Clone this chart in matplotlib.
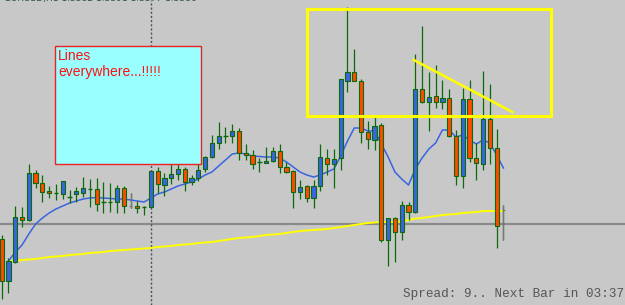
import matplotlib
matplotlib.use('Agg')
import matplotlib.pyplot as plt
from matplotlib.patches import Rectangle
import numpy as np

# candle data (screen y, smaller = higher price)
opens = [239, 281, 262, 217, 220, 173, 183, 191, 193, 194, 197, 194, 193, 189, 189,
         202, 202, 202, 188, 206, 206, 207, 207, 171, 185, 178, 174, 169, 182, 178,
         169, 157, 143, 136, 136, 131, 153, 155, 162, 163, 161, 151, 167, 171, 192,
         186, 198, 186, 158, 164, 158, 81, 72, 81, 132, 140, 125, 240, 218, 232,
         205, 212, 89, 102, 96, 102, 98, 136, 176, 99, 158, 164, 119, 148, 210]
highs = [235, 258, 206, 207, 164, 170, 175, 186, 184, 181, 190, 187, 177, 179, 178,
         182, 183, 185, 186, 193, 201, 206, 171, 167, 173, 163, 163, 167, 175, 163,
         156, 135, 122, 127, 124, 128, 144, 150, 158, 147, 147, 144, 162, 170, 180,
         185, 180, 144, 149, 149, 79, 7, 49, 79, 121, 117, 123, 218, 217, 201,
         202, 54, 26, 72, 65, 80, 89, 130, 88, 80, 143, 71, 84, 129, 205]
lows = [299, 293, 263, 227, 221, 188, 202, 198, 200, 199, 203, 202, 197, 207, 211,
        213, 212, 213, 213, 208, 213, 215, 208, 193, 196, 184, 180, 191, 185, 181,
        172, 158, 149, 143, 143, 160, 160, 169, 172, 163, 162, 173, 173, 208, 199,
        202, 208, 191, 175, 188, 170, 92, 81, 143, 149, 150, 242, 266, 262, 240,
        220, 213, 103, 131, 108, 109, 137, 185, 188, 162, 180, 170, 164, 248, 240]
closes = [281, 261, 217, 220, 173, 183, 192, 193, 193, 181, 197, 191, 188, 189, 204,
          202, 202, 188, 206, 206, 208, 207, 171, 184, 178, 174, 169, 182, 178, 170,
          157, 143, 136, 136, 131, 153, 155, 164, 162, 161, 151, 167, 172, 192, 187,
          198, 186, 157, 164, 159, 79, 72, 81, 132, 139, 126, 240, 218, 232, 205,
          212, 89, 102, 97, 102, 98, 136, 176, 99, 158, 163, 119, 148, 226, 210]
doji_grey = [19, 74]

# moving averages, one value per candle from candle 1
ma_fast = [261, 252, 245, 234, 224, 218, 213, 209, 206, 203, 201, 199, 198, 197.5,
           198, 198.5, 199, 199, 200, 201, 202, 198, 194, 192, 189, 186, 184, 182,
           179, 175, 172, 166, 160, 154, 153, 154, 156, 156.5, 157, 157, 158, 162,
           167, 172, 175, 177, 175, 172, 169, 156, 141, 128, 128, 131, 131, 144,
           157, 172, 179, 185, 169, 158, 149, 143, 130, 130, 137, 135, 140, 144,
           140, 143, 155, 168]
ma_slow = [261.5, 261, 260, 259.5, 259, 258, 257, 256.5, 256, 255, 254.5, 254, 253,
           252.5, 252, 251, 250.5, 250, 249.5, 249, 248.5, 248, 247, 246.5, 246, 245,
           244.5, 244, 243, 242.5, 242, 241, 240, 239, 238, 237.5, 237, 236, 235,
           234.5, 234, 233, 232, 231, 230.5, 230, 229.5, 229, 228, 227, 226, 225,
           224, 223, 222.5, 222, 222, 222, 221.5, 220, 218.5, 218, 217, 216, 215,
           214.5, 214, 213, 212.5, 212, 211, 211, 211, 211]

h_level = 224          # grey horizontal line
v_bar = 22             # dotted vertical separator
box_bars = (7.85, 29.4)      # cyan note box, bar range
box_levels = (45.5, 163.5)
zone_bars = (45.1, 81.0)     # yellow rectangle
zone_levels = (9.3, 115.7)
trend_bars = (60.6, 75.5)
trend_levels = (59.3, 112.7)

note_text = 'Lines\neverywhere...!!!!!'
status_text = 'Spread: 9.. Next Bar in 03:37'
header_text = 'EURUSD,H1 1.3382 1.3391 1.3377 1.3386'

BG = '#c8c8c8'
GREEN = '#0b6b0b'
BLUE = '#3a64e0'
RED = '#ff4a00'

W, H = 625, 305
fig = plt.figure(figsize=(W / 100, H / 100), dpi=100, facecolor=BG)
ax = fig.add_axes([0, 0, 1, 1], facecolor=BG)

step = 6.78
ax.set_xlim(-1.7 / step, (W - 1.7) / step)
ax.set_ylim(H, 0)
ax.axis('off')

idx = np.arange(len(opens))
o = np.array(opens, float)
c = np.array(closes, float)

ax.axhline(h_level, color='#8a8a8a', lw=1.6, zorder=1)
ax.axvline(v_bar, color='#3f5656', lw=1.0, ls=(0, (1.5, 1.5)), zorder=1)

ax.plot(idx[1:], ma_slow, color='#ffff00', lw=1.4, zorder=2)
ax.plot(idx[1:], ma_fast, color=BLUE, lw=1.1, zorder=2)

ax.vlines(idx, highs, lows, color=GREEN, lw=0.9, zorder=3)
for i in idx:
    if o[i] == c[i]:
        if i in doji_grey:
            ax.vlines(i, highs[i], lows[i], color='#777777', lw=0.9, zorder=4)
            ax.hlines(o[i], i - 0.2, i + 0.2, color='#777777', lw=0.8, zorder=4)
        else:
            ax.hlines(o[i], i - 0.32, i + 0.32, color=GREEN, lw=1.0, zorder=4)
        continue
    fill = BLUE if c[i] < o[i] else RED
    ax.bar(i, abs(c[i] - o[i]), bottom=min(o[i], c[i]), width=0.62,
           color=fill, edgecolor=GREEN, lw=0.8, zorder=4)

# note box
ax.add_patch(Rectangle((box_bars[0], box_levels[0]), box_bars[1] - box_bars[0],
                       box_levels[1] - box_levels[0], facecolor='#99ffff',
                       edgecolor='#ee2020', lw=1.0, zorder=5))
ax.text(box_bars[0] + 0.5, box_levels[0] + 3.5, note_text, color='#ff1010',
        family='Liberation Sans', fontsize=10, va='top', ha='left',
        linespacing=1.15, zorder=6)

# yellow annotations
ax.add_patch(Rectangle((zone_bars[0], zone_levels[0]), zone_bars[1] - zone_bars[0],
                       zone_levels[1] - zone_levels[0], fill=False,
                       edgecolor='#ffff00', lw=2.2, zorder=5))
ax.plot(trend_bars, trend_levels, color='#ffff00', lw=1.8, zorder=5,
        solid_capstyle='butt')

fig.text(403 / W, 1 - 297 / H, status_text, family='Liberation Mono',
         fontsize=9.1, color='#555555', ha='left', va='baseline')
# header line sits mostly above the top edge, as in the screenshot
fig.text(5 / W, 1 - 1.5 / H, header_text, family='DejaVu Sans', fontsize=6.6,
         color='#2f4f4f', ha='left', va='baseline')

fig.savefig('out.png', dpi=100, facecolor=BG)
